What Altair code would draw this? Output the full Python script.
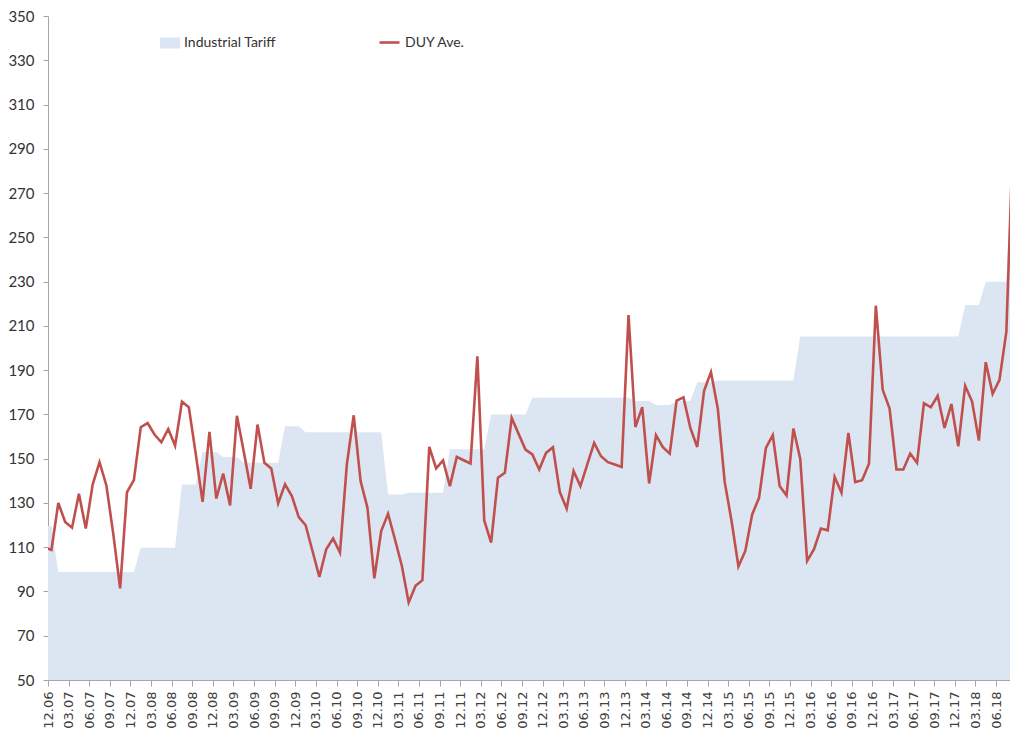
import altair as alt
import pandas as pd

# Monthly series, Nov-2006 ... Oct-2018 (first and last months are partly clipped by the axis range)
duy_ave = [
    110.0, 108.8, 130.0, 121.4, 118.8, 134.1, 118.4, 138.3, 148.4, 137.9,
    116.0, 91.4, 134.9, 140.3, 164.2, 166.1, 160.9, 157.4, 163.4, 155.9,
    175.7, 173.2, 152.3, 130.5, 162.1, 132.0, 143.3, 128.9, 169.4, 153.1,
    136.4, 165.4, 148.1, 145.6, 129.8, 138.4, 133.1, 123.6, 119.9, 108.3,
    96.6, 109.1, 114.0, 107.6, 147.4, 169.6, 139.9, 127.8, 95.9, 117.3,
    125.1, 113.6, 101.6, 85.0, 92.6, 95.1, 155.3, 145.6, 149.2, 137.6,
    150.8, 149.3, 147.8, 196.2, 122.1, 112.1, 141.4, 143.6, 168.4, 161.2,
    154.1, 151.9, 145.1, 152.6, 155.2, 134.9, 127.4, 144.4, 137.6, 147.4,
    157.1, 151.1, 148.4, 147.4, 146.3, 214.9, 164.3, 173.3, 138.8, 160.6,
    155.2, 152.3, 176.2, 177.7, 163.9, 155.3, 180.7, 189.1, 172.6, 139.5,
    121.8, 101.3, 108.3, 124.8, 132.3, 154.9, 160.6, 137.6, 133.4, 163.6,
    149.9, 103.8, 109.1, 118.4, 117.6, 141.8, 134.6, 161.6, 139.4, 140.3,
    147.7, 219.1, 181.1, 172.6, 145.1, 145.1, 152.3, 148.1, 175.1, 173.2,
    178.4, 163.9, 174.7, 155.6, 182.9, 175.9, 158.2, 193.6, 179.3, 185.6,
    207.4, 299.0, 337.0,
]

industrial_tariff = (
    [119.6] * 2 + [98.8] * 12 + [109.8] * 6 + [138.3] * 3 + [153.0] * 3
    + [150.7] * 3 + [148.1] * 6 + [164.6] * 3 + [161.9] * 12 + [133.8] * 3
    + [134.6] * 6 + [154.3] * 6 + [169.9] * 6 + [177.5] * 15 + [176.0] * 3
    + [174.2] * 3 + [176.0] * 3 + [184.5] * 3 + [185.3] * 12 + [205.2] * 24
    + [219.4] * 3 + [229.9] * 4 + [295.0, 330.0]
)

tick_labels = [
    "12.06", "03.07", "06.07", "09.07", "12.07", "03.08", "06.08", "09.08",
    "12.08", "03.09", "06.09", "09.09", "12.09", "03.10", "06.10", "09.10",
    "12.10", "03.11", "06.11", "09.11", "12.11", "03.12", "06.12", "09.12",
    "12.12", "03.13", "06.13", "09.13", "12.13", "03.14", "06.14", "09.14",
    "12.14", "03.15", "06.15", "09.15", "12.15", "03.16", "06.16", "09.16",
    "12.16", "03.17", "06.17", "09.17", "12.17", "03.18", "06.18", "09.18",
]
tick_positions = [3 * i for i in range(len(tick_labels))]  # months after 12.06
y_ticks = list(range(50, 351, 20))

series_tariff = "Industrial Tariff"
series_duy = "DUY Ave."

# each monthly value sits mid-month (month index + 0.5), starting one month before 12.06
month_pos = [i - 1 + 0.5 for i in range(len(duy_ave))]

df = pd.DataFrame({
    "m": month_pos,
    "duy": duy_ave,
    "tariff": industrial_tariff,
    "s_tariff": series_tariff,
    "s_duy": series_duy,
})

label_expr = "[" + ",".join(f"'{t}'" for t in tick_labels) + "][round(datum.value/3)]"

PLOT_W = 962
PX_PER_MONTH = 6.87

x_scale = alt.Scale(domain=[0, PLOT_W / PX_PER_MONTH], nice=False, zero=False)
x_axis = alt.Axis(
    values=tick_positions,
    labelExpr=label_expr,
    labelAngle=270,
    labelFont="DejaVu Sans",
    labelFontSize=13,
    labelColor="#404040",
    labelPadding=5,
    labelOverlap=False,
    labelBound=False,
    labelFlush=False,
    tickSize=6,
    tickColor="#a6a6a6",
    domainColor="#a6a6a6",
    grid=False,
    title=None,
)

y_scale = alt.Scale(domain=[50, 350], nice=False, zero=False)
y_axis = alt.Axis(
    values=y_ticks,
    labelFont="Lato",
    labelFontSize=15,
    labelColor="#333333",
    labelPadding=9,
    labelOverlap=False,
    tickSize=5,
    tickColor="#a6a6a6",
    domainColor="#a6a6a6",
    grid=False,
    title=None,
)

rect_path = "M-1,-0.55L1,-0.55L1,0.55L-1,0.55Z"

area = alt.Chart(df).mark_area(clip=True, opacity=1).encode(
    x=alt.X("m:Q", scale=x_scale, axis=x_axis),
    y=alt.Y("tariff:Q", scale=y_scale, axis=y_axis),
    y2=alt.datum(50),
    fill=alt.Fill(
        "s_tariff:N",
        scale=alt.Scale(domain=[series_tariff], range=["#dce6f2"]),
        legend=alt.Legend(
            orient="none", legendX=112, legendY=17, title=None, padding=0,
            symbolType=rect_path, symbolSize=400, symbolStrokeWidth=0,
            labelFont="Lato", labelFontSize=14,
            labelColor="#333333", labelOffset=4,
        ),
    ),
)

line = alt.Chart(df).mark_line(clip=True, strokeWidth=2.6).encode(
    x=alt.X("m:Q", scale=x_scale, axis=x_axis),
    y=alt.Y("duy:Q", scale=y_scale, axis=y_axis),
    stroke=alt.Stroke(
        "s_duy:N",
        scale=alt.Scale(domain=[series_duy], range=["#c0504d"]),
        legend=alt.Legend(
            orient="none", legendX=330, legendY=15, title=None, padding=0,
            symbolType="stroke", symbolSize=400, symbolStrokeWidth=2.6,
            labelFont="Lato", labelFontSize=14,
            labelColor="#333333", labelOffset=4,
        ),
    ),
)

chart = (
    alt.layer(area, line)
    .resolve_scale(fill="independent", stroke="independent")
    .properties(
        width=PLOT_W,
        height=664,
        autosize="none",
        padding={"left": 40, "top": 8, "right": 0, "bottom": 49},
    )
    .configure_view(stroke=None)
    .configure_axis(labelOverlap=False)
)

chart.save("out.html", embed_options={"renderer": "svg", "actions": False})
